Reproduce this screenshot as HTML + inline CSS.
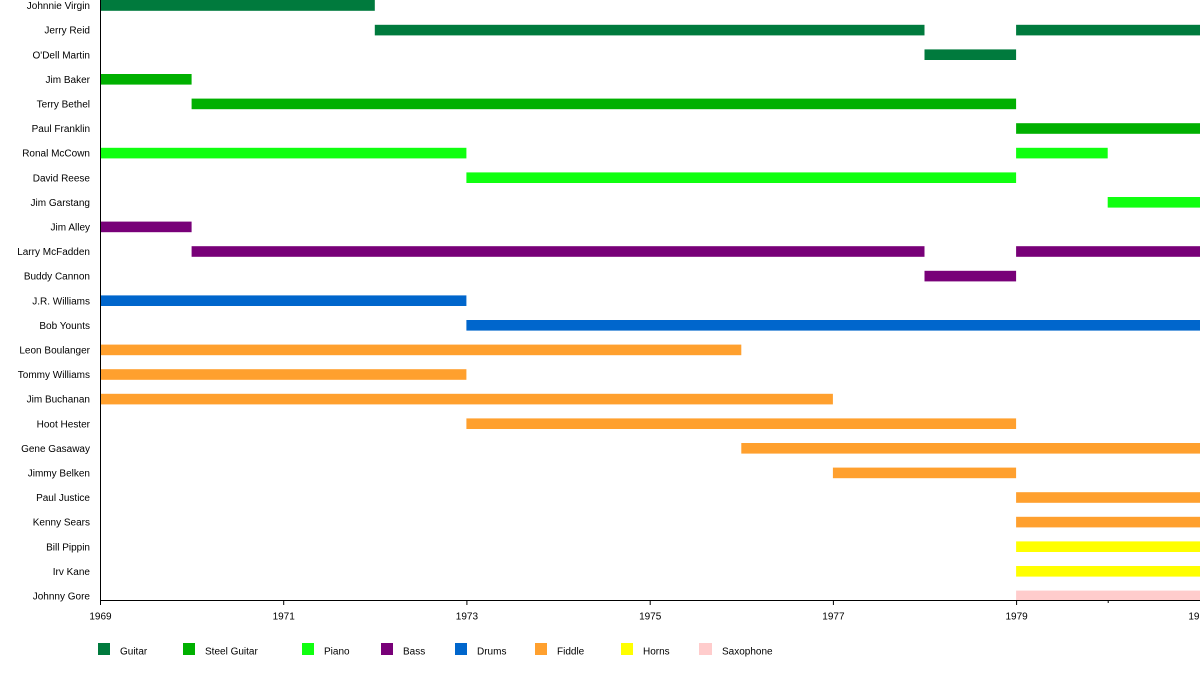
<!DOCTYPE html>
<html><head><meta charset="utf-8"><style>
html,body{margin:0;padding:0;background:#fff;}
svg{display:block;}
text{font-family:"Liberation Sans",Arial,sans-serif;font-size:10px;fill:#000;}
</style></head><body>
<svg width="1200" height="680" viewBox="0 0 1200 680" xmlns="http://www.w3.org/2000/svg">
<rect width="1200" height="680" fill="#fff"/>
<g id="bars">
<!-- Guitar -->
<rect x="100" y="0" width="274.8" height="10.8" fill="#007a3d"/>
<rect x="374.8" y="24.8" width="549.7" height="10.6" fill="#007a3d"/>
<rect x="1016.1" y="24.8" width="183.9" height="10.6" fill="#007a3d"/>
<rect x="924.5" y="49.4" width="91.6" height="10.6" fill="#007a3d"/>
<!-- Steel Guitar -->
<rect x="100" y="74" width="91.6" height="10.6" fill="#00b000"/>
<rect x="191.6" y="98.6" width="824.5" height="10.6" fill="#00b000"/>
<rect x="1016.1" y="123.2" width="183.9" height="10.6" fill="#00b000"/>
<!-- Piano -->
<rect x="100" y="147.8" width="366.4" height="10.6" fill="#10ff10"/>
<rect x="1016.1" y="147.8" width="91.6" height="10.6" fill="#10ff10"/>
<rect x="466.4" y="172.4" width="549.7" height="10.6" fill="#10ff10"/>
<rect x="1107.7" y="197" width="92.3" height="10.6" fill="#10ff10"/>
<!-- Bass -->
<rect x="100" y="221.6" width="91.6" height="10.6" fill="#780078"/>
<rect x="191.6" y="246.2" width="732.9" height="10.6" fill="#780078"/>
<rect x="1016.1" y="246.2" width="183.9" height="10.6" fill="#780078"/>
<rect x="924.5" y="270.8" width="91.6" height="10.6" fill="#780078"/>
<!-- Drums -->
<rect x="100" y="295.4" width="366.4" height="10.6" fill="#0066cc"/>
<rect x="466.4" y="320" width="733.6" height="10.6" fill="#0066cc"/>
<!-- Fiddle -->
<rect x="100" y="344.6" width="641.3" height="10.6" fill="#ffa02e"/>
<rect x="100" y="369.2" width="366.4" height="10.6" fill="#ffa02e"/>
<rect x="100" y="393.8" width="732.9" height="10.6" fill="#ffa02e"/>
<rect x="466.4" y="418.4" width="549.7" height="10.6" fill="#ffa02e"/>
<rect x="741.3" y="443" width="458.7" height="10.6" fill="#ffa02e"/>
<rect x="832.9" y="467.6" width="183.2" height="10.6" fill="#ffa02e"/>
<rect x="1016.1" y="492.2" width="183.9" height="10.6" fill="#ffa02e"/>
<rect x="1016.1" y="516.8" width="183.9" height="10.6" fill="#ffa02e"/>
<!-- Horns -->
<rect x="1016.1" y="541.4" width="183.9" height="10.6" fill="#ffff00"/>
<rect x="1016.1" y="566" width="183.9" height="10.6" fill="#ffff00"/>
<!-- Saxophone -->
<rect x="1016.1" y="590.6" width="183.9" height="9.4" fill="#ffcccc"/>
</g>
<g text-anchor="end">
<text x="90" y="9.1">Johnnie Virgin</text>
<text x="90" y="33.7">Jerry Reid</text>
<text x="90" y="58.3">O'Dell Martin</text>
<text x="90" y="82.9">Jim Baker</text>
<text x="90" y="107.5">Terry Bethel</text>
<text x="90" y="132.1">Paul Franklin</text>
<text x="90" y="156.7">Ronal McCown</text>
<text x="90" y="181.3">David Reese</text>
<text x="90" y="205.9">Jim Garstang</text>
<text x="90" y="230.5">Jim Alley</text>
<text x="90" y="255.1">Larry McFadden</text>
<text x="90" y="279.7">Buddy Cannon</text>
<text x="90" y="304.3">J.R. Williams</text>
<text x="90" y="328.9">Bob Younts</text>
<text x="90" y="353.5">Leon Boulanger</text>
<text x="90" y="378.1">Tommy Williams</text>
<text x="90" y="402.7">Jim Buchanan</text>
<text x="90" y="427.3">Hoot Hester</text>
<text x="90" y="451.9">Gene Gasaway</text>
<text x="90" y="476.5">Jimmy Belken</text>
<text x="90" y="501.1">Paul Justice</text>
<text x="90" y="525.7">Kenny Sears</text>
<text x="90" y="550.3">Bill Pippin</text>
<text x="90" y="574.9">Irv Kane</text>
<text x="90" y="599.5">Johnny Gore</text>
</g>
<!-- axes -->
<line x1="100.5" y1="0" x2="100.5" y2="600" stroke="#000" stroke-width="1"/>
<line x1="100" y1="600.5" x2="1200" y2="600.5" stroke="#000" stroke-width="1"/>
<g stroke="#000" stroke-width="1">
<line x1="100.5" y1="600" x2="100.5" y2="605"/>
<line x1="283.7" y1="600" x2="283.7" y2="605"/>
<line x1="466.9" y1="600" x2="466.9" y2="605"/>
<line x1="650.2" y1="600" x2="650.2" y2="605"/>
<line x1="833.4" y1="600" x2="833.4" y2="605"/>
<line x1="1016.6" y1="600" x2="1016.6" y2="605"/>
<line x1="1108.2" y1="600" x2="1108.2" y2="603"/>
</g>
<g text-anchor="middle">
<text x="100.5" y="619.5">1969</text>
<text x="283.7" y="619.5">1971</text>
<text x="466.9" y="619.5">1973</text>
<text x="650.2" y="619.5">1975</text>
<text x="833.4" y="619.5">1977</text>
<text x="1016.6" y="619.5">1979</text>
<text x="1199.5" y="619.5">1981</text>
</g>
<!-- legend -->
<rect x="98" y="643" width="12" height="12" fill="#007a3d"/>
<text x="120" y="654.5">Guitar</text>
<rect x="183" y="643" width="12" height="12" fill="#00b000"/>
<text x="205" y="654.5">Steel Guitar</text>
<rect x="302" y="643" width="12" height="12" fill="#10ff10"/>
<text x="324" y="654.5">Piano</text>
<rect x="381" y="643" width="12" height="12" fill="#780078"/>
<text x="403" y="654.5">Bass</text>
<rect x="455" y="643" width="12" height="12" fill="#0066cc"/>
<text x="477" y="654.5">Drums</text>
<rect x="535" y="643" width="12" height="12" fill="#ffa02e"/>
<text x="557" y="654.5">Fiddle</text>
<rect x="621" y="643" width="12" height="12" fill="#ffff00"/>
<text x="643" y="654.5">Horns</text>
<rect x="699" y="643" width="13" height="12" fill="#ffcccc"/>
<text x="722" y="654.5">Saxophone</text>
</svg>
</body></html>
